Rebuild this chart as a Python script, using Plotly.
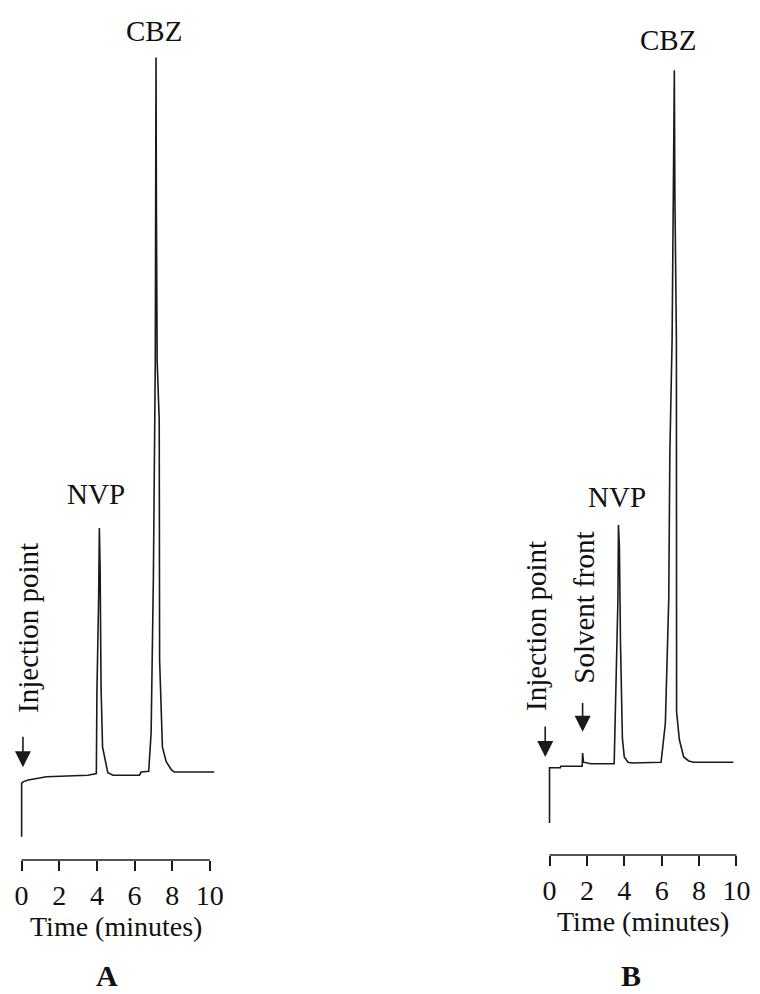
import plotly.graph_objects as go

# ---- Chromatogram A (time in minutes, detector response in arbitrary units)
time_a = [0, 0, 0.1, 0.35, 1.32, 3.52, 3.97, 4.0, 4.09, 4.13, 4.17, 4.22, 4.3, 4.46, 4.58,
          4.85, 6.26, 6.35, 6.75, 6.88, 7.0, 7.1, 7.13, 7.14, 7.16, 7.2, 7.31, 7.33, 7.48,
          7.68, 7.95, 8.1, 10.23]
resp_a = [2.9, 9.6, 9.8, 10.0, 10.4, 10.6, 10.8, 20.9, 32.5, 41.5, 36.5, 21.6, 14.1, 12.1, 10.9,
          10.6, 10.6, 11.0, 11.1, 15.9, 35.4, 62.3, 81.6, 100.3, 81.6, 62.3, 55.0, 25.0, 14.1,
          12.3, 11.3, 11.0, 11.0]

# ---- Chromatogram B
time_b = [0, 0, 0.58, 0.6, 1.75, 1.77, 1.82, 2.0, 2.2, 3.46, 3.49, 3.58, 3.66, 3.69, 3.74,
          3.8, 3.9, 4.0, 4.2, 4.43, 5.97, 6.06, 6.2, 6.38, 6.44, 6.56, 6.63, 6.68, 6.71,
          6.79, 6.8, 6.95, 7.18, 7.45, 7.71, 9.84]
resp_b = [4.0, 10.9, 10.9, 11.1, 11.1, 12.75, 11.6, 11.5, 11.4, 11.4, 15.0, 20.9, 31.9, 41.25, 38.5,
          26.25, 14.6, 12.25, 11.6, 11.5, 11.6, 13.5, 16.5, 31.9, 50.25, 64.4, 82.5, 98.1, 82.5,
          64.4, 17.9, 14.4, 12.25, 11.75, 11.6, 11.6]

tick_vals = [0, 2, 4, 6, 8, 10]
tick_text = ["0", "2", "4", "6", "8", "10"]
x_title = "Time (minutes)"
panel_labels = ["A", "B"]

FONT = "Liberation Serif, Times New Roman, serif"
W, H = 760, 994
FS = 29
FS_AX = 28

def py(px):  # pixel row -> paper y
    return 1 - px / H

def pxx(px):
    return px / W

fig = go.Figure()
fig.add_trace(go.Scatter(x=time_a, y=resp_a, mode="lines", xaxis="x", yaxis="y",
                         line=dict(color="#1a1a1a", width=1.6), showlegend=False))
fig.add_trace(go.Scatter(x=time_b, y=resp_b, mode="lines", xaxis="x2", yaxis="y2",
                         line=dict(color="#1a1a1a", width=1.6), showlegend=False))

xr = [-0.6, 10.6]
sa = 18.9
sb = 18.76
dom_a = [pxx(21.7 - 0.6 * sa), pxx(210.7 + 0.6 * sa)]
dom_b = [pxx(551.7 - 0.6 * sb), pxx(739.3 + 0.6 * sb)]
yr = [0, 105]
ydom_a = [py(860), py(860 - 105 * 8)]
ydom_b = [py(855), py(855 - 105 * 8)]

axis_common = dict(range=xr, showgrid=False, zeroline=False, showline=False,
                   ticks="outside", ticklen=10, tickwidth=1.5, tickcolor="#1a1a1a",
                   tickvals=tick_vals, ticktext=tick_text,
                   tickfont=dict(family=FONT, size=FS_AX, color="#111"),
                   title=dict(text=""))

fig.update_layout(
    width=W, height=H, margin=dict(l=0, r=0, t=0, b=0),
    paper_bgcolor="white", plot_bgcolor="white",
    xaxis=dict(domain=dom_a, anchor="y", **axis_common),
    yaxis=dict(domain=ydom_a, range=yr, visible=False, anchor="x"),
    xaxis2=dict(domain=dom_b, anchor="y2", **axis_common),
    yaxis2=dict(domain=ydom_b, range=yr, visible=False, anchor="x2"),
)

fig.add_shape(type="line", xref="x", yref="paper", x0=0, x1=10, y0=ydom_a[0], y1=ydom_a[0],
              line=dict(color="#1a1a1a", width=1.5))
fig.add_shape(type="line", xref="x2", yref="paper", x0=0, x1=10, y0=ydom_b[0], y1=ydom_b[0],
              line=dict(color="#1a1a1a", width=1.5))

ann = []
def label(text, x, y, angle=0, size=FS, bold=False):
    t = f"<b>{text}</b>" if bold else text
    ann.append(dict(text=t, x=pxx(x), y=py(y), xref="paper", yref="paper", showarrow=False,
                    textangle=angle, xanchor="center", yanchor="middle",
                    font=dict(family=FONT, size=size, color="#111")))

label("CBZ", 155, 31)
label("NVP", 96.5, 494)
label("Injection point", 28, 628, angle=-90)
label("CBZ", 671, 40)
label("NVP", 619, 497)
label("Injection point", 538, 626, angle=-90)
label("Solvent front", 586, 608, angle=-90)
label(x_title, 116, 926, size=FS_AX)
label(x_title, 645.5, 921, size=FS_AX)
label(panel_labels[0], 107.5, 975, size=30, bold=True)
label(panel_labels[1], 633, 975, size=30, bold=True)

def arrow(xref, yref, x, y_tail, y_tip):
    ann.append(dict(text="", x=x, y=y_tip, ax=x, ay=y_tail, xref=xref, yref=yref,
                    axref=xref, ayref=yref, showarrow=True, arrowhead=2, arrowsize=2.0,
                    arrowwidth=1.6, arrowcolor="#1a1a1a"))

arrow("x", "y", 0.07, 15.6, 11.6)
arrow("x2", "y2", -0.23, 16.25, 12.25)
arrow("x2", "y2", 1.77, 19.2, 15.4)

fig.update_layout(annotations=ann)
fig.write_html("out.html")
